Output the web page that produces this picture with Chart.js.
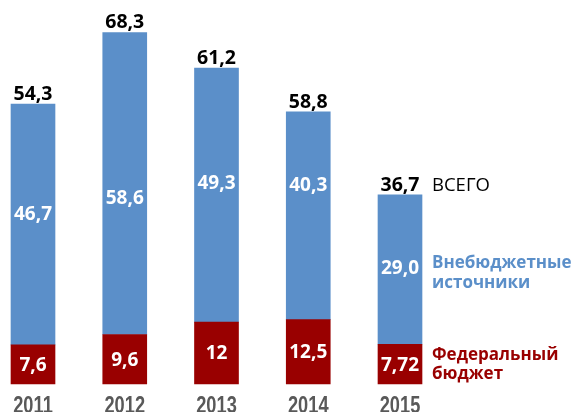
<!DOCTYPE html>
<html>
<head>
<meta charset="utf-8">
<script src="https://cdn.jsdelivr.net/npm/chart.js@4"></script>
<style>
  html, body { margin: 0; padding: 0; background: #fff; }
</style>
</head>
<body>
<canvas id="chart" width="585" height="412"></canvas>
<script>
const years = ["2011", "2012", "2013", "2014", "2015"];
const federal = ["7,6", "9,6", "12", "12,5", "7,72"];
const offBudget = ["46,7", "58,6", "49,3", "40,3", "29,0"];
const totals = ["54,3", "68,3", "61,2", "58,8", "36,7"];

const BLUE = "#5b8fc9";
const RED = "#990000";
const LABEL_FONT = "'Open Sans', 'DejaVu Sans', sans-serif";

const toNumber = s => parseFloat(s.replace(",", "."));

// values inside the bars, totals on top, captions to the right of the last bar
const barLabels = {
  id: "barLabels",
  afterDatasetsDraw(chart, args, opts) {
    const ctx = chart.ctx;
    const fedBars = chart.getDatasetMeta(0).data;
    const offBars = chart.getDatasetMeta(1).data;
    ctx.save();
    ctx.textAlign = "center";
    ctx.textBaseline = "middle";
    ctx.fillStyle = "#fff";
    ctx.font = "bold 19px " + LABEL_FONT;
    fedBars.forEach((bar, i) => {
      ctx.fillText(federal[i], bar.x, (bar.y + bar.base) / 2 + 1);
    });
    offBars.forEach((bar, i) => {
      ctx.fillText(offBudget[i], bar.x, (bar.y + bar.base) / 2 + opts.shift[i]);
    });

    ctx.fillStyle = "#000";
    ctx.textBaseline = "alphabetic";
    ctx.font = "bold 19.5px " + LABEL_FONT;
    offBars.forEach((bar, i) => ctx.fillText(totals[i], bar.x, bar.y - 4));

    // year labels under the bars, condensed
    const xScale = chart.scales.x;
    ctx.fillStyle = "#595959";
    ctx.font = "bold 24px 'Liberation Sans', 'DejaVu Sans', sans-serif";
    years.forEach((y, i) => {
      ctx.save();
      ctx.translate(xScale.getPixelForValue(i), 413);
      ctx.scale(0.76, 1);
      ctx.fillText(y, 0, 0);
      ctx.restore();
    });

    const last = offBars.length - 1;
    const top = offBars[last];
    const bottom = fedBars[last];
    const x = top.x + top.width / 2 + 10;
    ctx.textAlign = "left";
    ctx.fillStyle = "#000";
    ctx.font = "18.5px " + LABEL_FONT;
    ctx.fillText("ВСЕГО", x, top.y - 4);

    ctx.textBaseline = "middle";
    ctx.font = "bold 17px " + LABEL_FONT;
    const midBlue = (top.y + top.base) / 2 + 4;
    ctx.fillStyle = BLUE;
    ctx.fillText("Внебюджетные", x, midBlue - 10);
    ctx.fillText("источники", x, midBlue + 10);
    const midRed = (bottom.y + bottom.base) / 2;
    ctx.fillStyle = RED;
    ctx.fillText("Федеральный", x, midRed - 9);
    ctx.fillText("бюджет", x, midRed + 10);
    ctx.restore();
  }
};

new Chart(document.getElementById("chart"), {
  type: "bar",
  data: {
    labels: years,
    datasets: [
      {
        label: "Федеральный бюджет",
        data: federal.map(toNumber),
        backgroundColor: RED,
        barThickness: 44,
        clip: false
      },
      {
        label: "Внебюджетные источники",
        data: offBudget.map(toNumber),
        backgroundColor: BLUE,
        barThickness: 44,
        clip: false
      }
    ]
  },
  options: {
    responsive: false,
    animation: false,
    layout: { padding: { left: 33, right: 185, top: 0, bottom: 28 } },
    plugins: {
      legend: { display: false },
      tooltip: { enabled: false },
      barLabels: { shift: [-10, 15, -11, -30, -1] }
    },
    scales: {
      x: { stacked: true, offset: false, display: false },
      y: { stacked: true, display: false, min: 0, max: 74.5 }
    }
  },
  plugins: [barLabels]
});
</script>
</body>
</html>
